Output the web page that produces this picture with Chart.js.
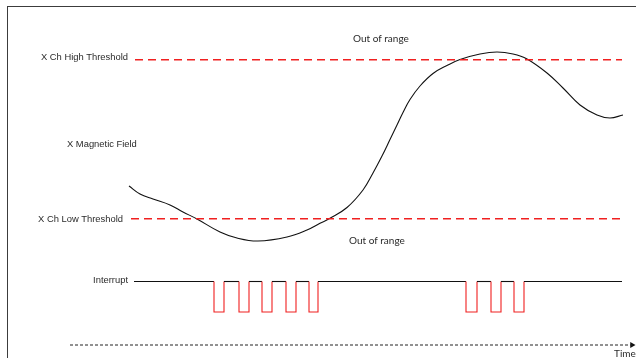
<!DOCTYPE html>
<html>
<head>
<meta charset="utf-8">
<script src="https://cdn.jsdelivr.net/npm/chart.js@4.4.1/dist/chart.umd.min.js"></script>
<style>
  html, body { margin: 0; padding: 0; background: #fff; }
  #wrap { position: relative; width: 636px; height: 358px; overflow: hidden; }
  #frame { position: absolute; left: 7px; top: 6px; right: -4px; bottom: -4px;
           border-left: 1.5px solid #3c3c3c; border-top: 1.5px solid #3c3c3c; }
  canvas { position: absolute; left: 0; top: 0; }
</style>
</head>
<body>
<div id="wrap">
  <div id="frame"></div>
  <canvas id="c" width="636" height="358"></canvas>
</div>
<script>
// ---- data (time units across, signal level up) ----
const fieldTime  = [129, 140, 153, 170, 183, 197, 220, 237, 258, 287, 307, 320, 330, 347, 363, 373, 382, 390, 397, 403, 410, 420, 433, 447, 460, 480, 497, 513, 527, 547, 563, 580, 597, 610, 623];
const fieldLevel = [172, 164, 159, 153, 146, 139, 126, 120, 117, 121, 128, 134.7, 139.7, 150.5, 168, 185, 202, 218.5, 233, 245.5, 258.5, 272, 284.5, 292.5, 298.5, 304, 306, 304, 299, 285, 270, 253, 243, 240, 243];

const highThreshold = 298.3;
const lowThreshold = 139.3;
const highThresholdSpan = [135, 622];
const lowThresholdSpan = [131, 622];

const interruptHigh = 76.5;
const interruptLow = 46;
const interruptSpan = [134, 622];
const interruptEdges = [214, 224, 239, 249, 262, 272, 286, 296, 309, 318, 466, 477, 491, 501, 514, 524];

const timeAxisLevel = 13;
const timeAxisSpan = [70, 632];

const labelTexts = ["X Ch High Threshold", "X Magnetic Field", "X Ch Low Threshold", "Interrupt", "Out of range", "Out of range", "Time"];

// ---- build datasets ----
const fieldData = fieldTime.map((t, i) => ({ x: t, y: fieldLevel[i] }));
const highData = highThresholdSpan.map(t => ({ x: t, y: highThreshold }));
const lowData = lowThresholdSpan.map(t => ({ x: t, y: lowThreshold }));

const interruptData = [{ x: interruptSpan[0], y: interruptHigh }];
interruptEdges.forEach((e, i) => {
  const goingLow = i % 2 === 0;
  interruptData.push({ x: e, y: goingLow ? interruptHigh : interruptLow });
  interruptData.push({ x: e, y: goingLow ? interruptLow : interruptHigh });
});
interruptData.push({ x: interruptSpan[1], y: interruptHigh });

const timeAxisData = timeAxisSpan.map(t => ({ x: t, y: timeAxisLevel }));

const RED = '#f02020';
const textFontLeft = '9.4px "Liberation Sans", Arial, sans-serif';
const textFontCal = '10px Lato, "Open Sans", sans-serif';
const labelPlacement = [
  { x: 128, y: 300.5, align: 'right', font: textFontLeft },
  { x: 67,  y: 214,   align: 'left',  font: textFontLeft },
  { x: 123, y: 138.5, align: 'right', font: textFontLeft },
  { x: 128, y: 77.5,  align: 'right', font: textFontLeft },
  { x: 353, y: 319,   align: 'left',  font: textFontCal },
  { x: 349, y: 117,   align: 'left',  font: textFontCal },
  { x: 614, y: 4.5,   align: 'left',  font: textFontCal }
];

const textPlugin = {
  id: 'diagramTexts',
  afterDatasetsDraw(chart) {
    const { ctx, scales } = chart;
    labelTexts.forEach((txt, i) => {
      const p = labelPlacement[i];
      ctx.save();
      ctx.font = p.font;
      ctx.fillStyle = '#2a2a2a';
      ctx.textAlign = p.align;
      ctx.textBaseline = 'middle';
      ctx.fillText(txt, scales.x.getPixelForValue(p.x), scales.y.getPixelForValue(p.y));
      ctx.restore();
    });
  }
};

new Chart(document.getElementById('c'), {
  type: 'scatter',
  data: {
    datasets: [
      { data: highData, showLine: true, borderColor: RED, borderWidth: 1.6, borderDash: [8, 5], pointRadius: 0, clip: false },
      { data: lowData, showLine: true, borderColor: RED, borderWidth: 1.6, borderDash: [8, 5], pointRadius: 0, clip: false },
      { data: fieldData, showLine: true, borderColor: '#111', borderWidth: 1.1, pointRadius: 0, tension: 0.4, clip: false },
      { data: interruptData, showLine: true, borderWidth: 1.1, pointRadius: 0, clip: false,
        borderColor: '#111',
        segment: { borderColor: c => (c.p0.parsed.y < interruptHigh - 1 || c.p1.parsed.y < interruptHigh - 1) ? RED : '#111' } },
      { data: timeAxisData, showLine: true, borderColor: '#222', borderWidth: 1, borderDash: [3, 2], pointRadius: 0, clip: false },
      { data: [timeAxisData[1]], showLine: false, pointStyle: 'triangle', rotation: 90, pointRadius: 3.5,
        backgroundColor: '#111', borderColor: '#111', borderWidth: 0, clip: false }
    ]
  },
  options: {
    responsive: false,
    animation: false,
    devicePixelRatio: 1,
    layout: { padding: 0, autoPadding: false },
    plugins: { legend: { display: false }, tooltip: { enabled: false } },
    scales: {
      x: { type: 'linear', min: 0, max: 636, display: false },
      y: { type: 'linear', min: 0, max: 358, display: false }
    }
  },
  plugins: [textPlugin]
});
</script>
</body>
</html>
